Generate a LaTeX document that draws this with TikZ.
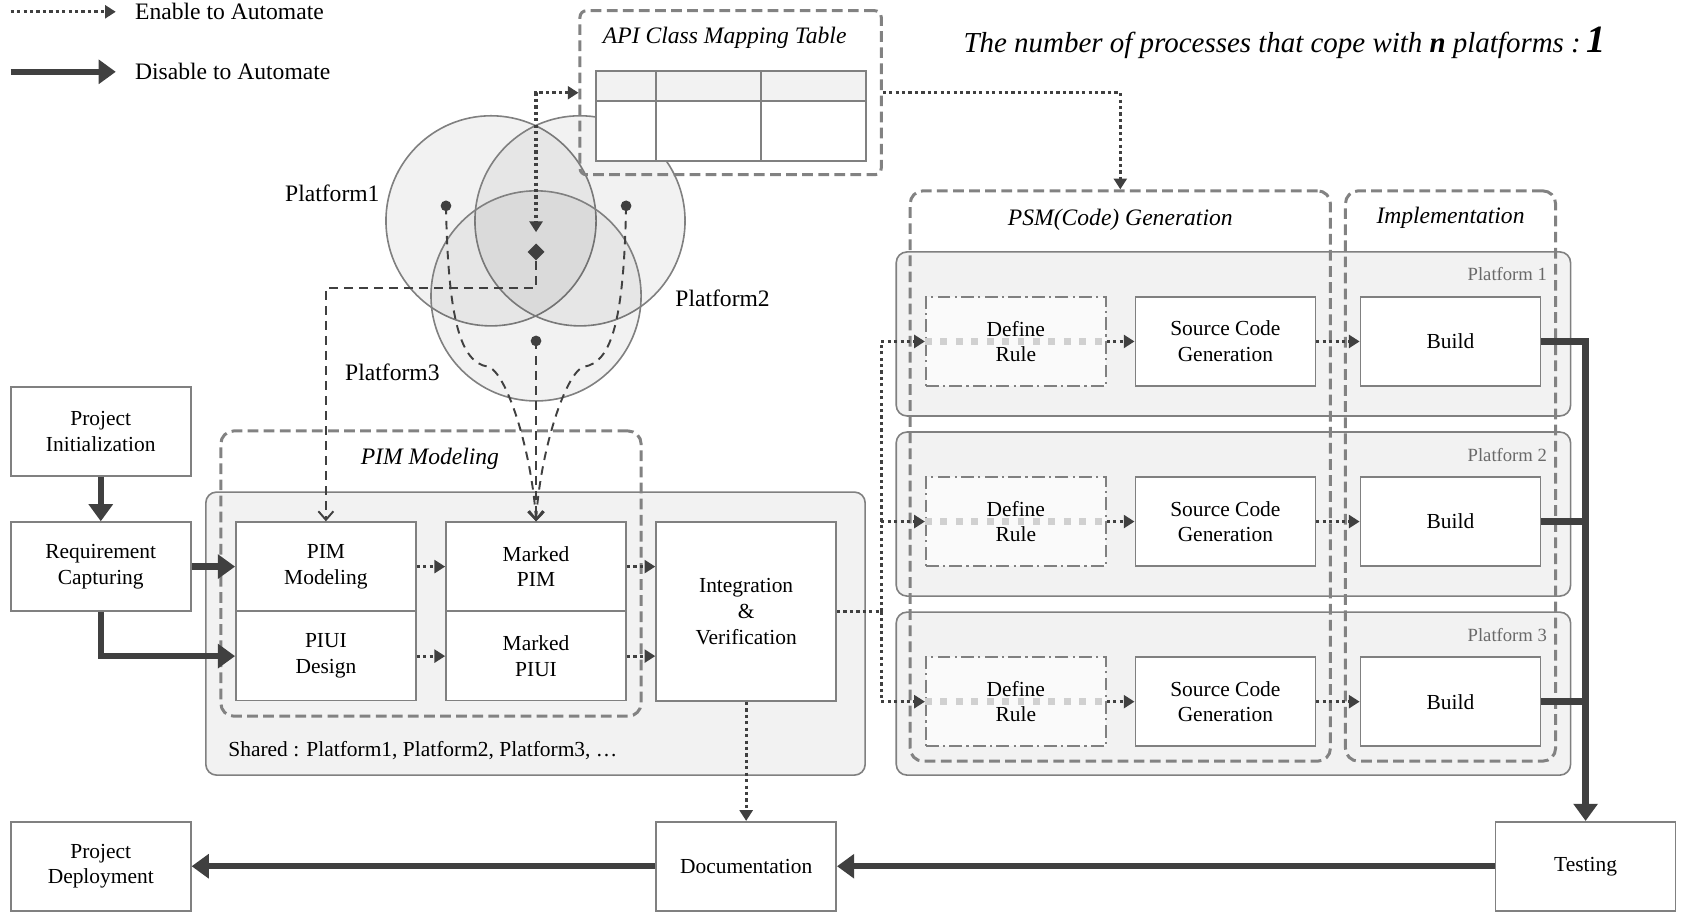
\documentclass[tikz,border=0pt]{standalone}
\usepackage{fontspec}
\setmainfont{Liberation Serif}
\usepackage{xcolor}
\usepackage{tikz}
\usetikzlibrary{shapes.geometric, arrows.meta, positioning, calc}
\definecolor{mydark}{RGB}{64,64,64}
\definecolor{myframe}{RGB}{128,128,128}
\definecolor{mygroup}{RGB}{130,130,130}
\definecolor{myshade}{RGB}{242,242,242}
\definecolor{myrule}{RGB}{250,250,250}
\definecolor{mygauge}{RGB}{208,208,208}
\definecolor{mylabel}{RGB}{105,105,105}
\newcommand{\boxfont}{\fontsize{10}{12}\selectfont}
\newcommand{\tagfont}{\fontsize{11}{13}\selectfont}
\tikzset{
  stepbox/.style={rectangle, draw=myframe, fill=white, line width=0.75pt,
    minimum width=84pt, minimum height=41.5pt, align=center,
    font=\boxfont, inner sep=1pt},
  rulebox/.style={stepbox, fill=myrule,
    dash pattern=on 6pt off 2pt on 1pt off 2pt},
  groupbox/.style={rectangle, draw=mygroup, line width=1.4pt,
    dash pattern=on 5pt off 2.5pt, rounded corners=6pt, inner sep=0pt},
  shadebox/.style={rectangle, draw=myframe, fill=myshade, line width=0.75pt,
    rounded corners=5pt, inner sep=0pt},
  vennset/.style={circle, draw=myframe, line width=0.75pt, fill=black,
    fill opacity=0.05, minimum size=98pt, inner sep=0pt},
  pindot/.style={circle, fill=mydark, minimum size=5pt, inner sep=0pt},
  hubmark/.style={diamond, fill=mydark, minimum size=8pt, inner sep=0pt},
  grouptitle/.style={font=\tagfont\itshape},
  rowtag/.style={font=\fontsize{8.7}{10}\selectfont, color=mylabel},
  autoline/.style={draw=mydark, line width=1.5pt, dash pattern=on 1.5pt off 1.5pt},
  autoarrow/.style={autoline, -{Triangle[length=5pt, width=6pt]}},
  manline/.style={draw=mydark, line width=3pt},
  manarrow/.style={manline, -{Triangle[length=8pt, width=11pt]}},
  refline/.style={draw=mydark, line width=0.9pt, dash pattern=on 4pt off 3pt},
  refarrow/.style={refline, -{Straight Barb[length=4pt, width=7pt]}},
  gaugeline/.style={draw=mygauge, line width=3.2pt, dash pattern=on 3.2pt off 4pt}
}
\begin{document}
\begin{tikzpicture}[x=0.5pt, y=-0.5pt]
  \useasboundingbox (0,0) rectangle (1568,850);
  % Legend
  \coordinate (lgdots) at (10,11);
  \coordinate (lgdote) at (108,11);
  \coordinate (lgbars) at (10,67);
  \coordinate (lgbare) at (108,67);
  \draw[autoarrow] (lgdots) -- (lgdote);
  \draw[manarrow] (lgbars) -- (lgbare);
  \node[font=\tagfont, anchor=west] (lgauto) at (119,11) {Enable to Automate};
  \node[font=\tagfont, anchor=west] (lgman) at (119,67) {Disable to Automate};
  % Headline
  \node[font=\fontsize{13.5}{15}\selectfont\itshape, anchor=east] (count) at (1505,40)
    {The number of processes that cope with \textbf{n} platforms :\hspace{0.2em}{\fontsize{18}{18}\selectfont\textbf{1}}};
  % Venn of platforms
  \node[vennset] (p1) at (458,206) {};
  \node[vennset] (p2) at (541,206) {};
  \node[vennset] (p3) at (500,276) {};
  \node[font=\tagfont] (p1lab) at (310,180) {Platform1};
  \node[font=\tagfont] (p2lab) at (674,278) {Platform2};
  \node[font=\tagfont] (p3lab) at (366,347) {Platform3};
  % API class mapping table
  \node[groupbox, rounded corners=3pt, minimum width=140.5pt, minimum height=76.5pt] (apibox) at (681.5,86.5) {};
  \node[grouptitle] (apititle) at (676,35) {API Class Mapping Table};
  \draw[myframe, line width=0.9pt, fill=white] (556,66) rectangle (808,150);
  \draw[myframe, line width=0.9pt, fill=myshade] (556,66) rectangle (808,94);
  \draw[myframe, line width=0.9pt] (612,66) -- (612,150) (710,66) -- (710,150);
  % Shared region
  \node[shadebox, minimum width=307.5pt, minimum height=132pt] (shared) at (499.5,591) {};
  \node[groupbox, minimum width=196pt, minimum height=133pt] (pimgrp) at (402,535) {};
  \node[grouptitle] (pimtitle) at (401,428) {PIM Modeling};
  \node[font=\boxfont, anchor=west] (sharedlab) at (206,700) {Shared : Platform1, Platform2, Platform3, \ldots};
  % Platform rows
  \node[shadebox, minimum width=314.5pt, minimum height=76.5pt] (row1) at (1150.5,311.5) {};
  \node[shadebox, minimum width=314.5pt, minimum height=76.5pt] (row2) at (1150.5,479.5) {};
  \node[shadebox, minimum width=314.5pt, minimum height=76pt] (row3) at (1150.5,647) {};
  \node[rowtag, anchor=east] (row1lab) at (1450,256) {Platform 1};
  \node[rowtag, anchor=east] (row2lab) at (1450,424) {Platform 2};
  \node[rowtag, anchor=east] (row3lab) at (1450,592) {Platform 3};
  \node[groupbox, minimum width=196pt, minimum height=266pt] (psmgrp) at (1045,444) {};
  \node[groupbox, minimum width=98pt, minimum height=266pt] (implgrp) at (1353,444) {};
  \node[grouptitle] (psmtitle) at (1045,205) {PSM(Code) Generation};
  \node[grouptitle] (impltitle) at (1353,203) {Implementation};
  % Process steps
  \node[stepbox] (init) at (94,402.5) {Project\\Initialization};
  \node[stepbox] (req) at (94,528.5) {Requirement\\Capturing};
  \node[stepbox] (pimm) at (304,528.5) {PIM\\Modeling};
  \node[stepbox] (piui) at (304,612) {PIUI\\Design};
  \node[stepbox] (mpim) at (500,528.5) {Marked\\PIM};
  \node[stepbox] (mpiui) at (500,612) {Marked\\PIUI};
  \node[stepbox, minimum height=83.5pt] (integ) at (696,570.5) {Integration\\\&\\Verification};
  \node[stepbox] (deploy) at (94,808) {Project\\Deployment};
  \node[stepbox] (doc) at (696,808) {Documentation};
  \node[stepbox] (test) at (1479,808) {Testing};
  \node[rulebox] (rule1) at (947.5,318.5) {Define\\Rule};
  \node[stepbox] (scg1) at (1143,318.5) {Source Code\\Generation};
  \node[stepbox] (build1) at (1353,318.5) {Build};
  \node[rulebox] (rule2) at (947.5,486.5) {Define\\Rule};
  \node[stepbox] (scg2) at (1143,486.5) {Source Code\\Generation};
  \node[stepbox] (build2) at (1353,486.5) {Build};
  \node[rulebox] (rule3) at (947.5,654.5) {Define\\Rule};
  \node[stepbox] (scg3) at (1143,654.5) {Source Code\\Generation};
  \node[stepbox] (build3) at (1353,654.5) {Build};
  % Reference links from the platforms
  \node[hubmark] (hub) at (500,235) {};
  \node[pindot] (d1) at (416,192) {};
  \node[pindot] (d2) at (584,192) {};
  \node[pindot] (d3) at (500,318) {};
  \draw[refarrow] (hub.south) -- ++(0,25) -| (pimm.north);
  \draw[refarrow] (d1.center) .. controls (418,300) and (430,338) .. (455,342)
    .. controls (472,346) and (496,420) .. (mpim.north);
  \draw[refarrow] (d2.center) .. controls (582,300) and (570,338) .. (545,342)
    .. controls (528,346) and (504,420) .. (mpim.north);
  \draw[refarrow] (d3.center) -- (mpim.north);
  % Automated flow
  \draw[autoline, {Triangle[length=5pt, width=6pt]}-{Triangle[length=5pt, width=6pt]}, shorten >=5pt] (apibox.west) -| (hub.north);
  \draw[autoarrow] (apibox.east) -| (psmgrp.north);
  \draw[autoarrow] (pimm) -- (mpim);
  \draw[autoarrow] (piui) -- (mpiui);
  \draw[autoarrow] (mpim.east) -- (mpim.east -| integ.west);
  \draw[autoarrow] (mpiui.east) -- (mpiui.east -| integ.west);
  \draw[autoarrow] (integ) -- (doc);
  \coordinate (fork) at (822,570.5);
  \draw[autoline] (integ.east) -- (fork);
  \draw[autoarrow] (fork) |- (rule1.west);
  \draw[autoarrow] (fork) |- (rule2.west);
  \draw[autoarrow] (fork) |- (rule3.west);
  \draw[gaugeline] (rule1.west) -- (rule1.east);
  \draw[gaugeline] (rule2.west) -- (rule2.east);
  \draw[gaugeline] (rule3.west) -- (rule3.east);
  \draw[autoarrow] (rule1) -- (scg1);
  \draw[autoarrow] (rule2) -- (scg2);
  \draw[autoarrow] (rule3) -- (scg3);
  \draw[autoarrow] (scg1) -- (build1);
  \draw[autoarrow] (scg2) -- (build2);
  \draw[autoarrow] (scg3) -- (build3);
  % Manual flow
  \draw[manarrow] (init) -- (req);
  \draw[manarrow] (req) -- (pimm);
  \draw[manarrow] (req.south) |- (piui.west);
  \draw[manarrow] (build1.east) -| (test.north);
  \draw[manline] (build2.east) -- (build2.east -| test.north);
  \draw[manline] (build3.east) -- (build3.east -| test.north);
  \draw[manarrow] (test) -- (doc);
  \draw[manarrow] (doc) -- (deploy);
\end{tikzpicture}
\end{document}
